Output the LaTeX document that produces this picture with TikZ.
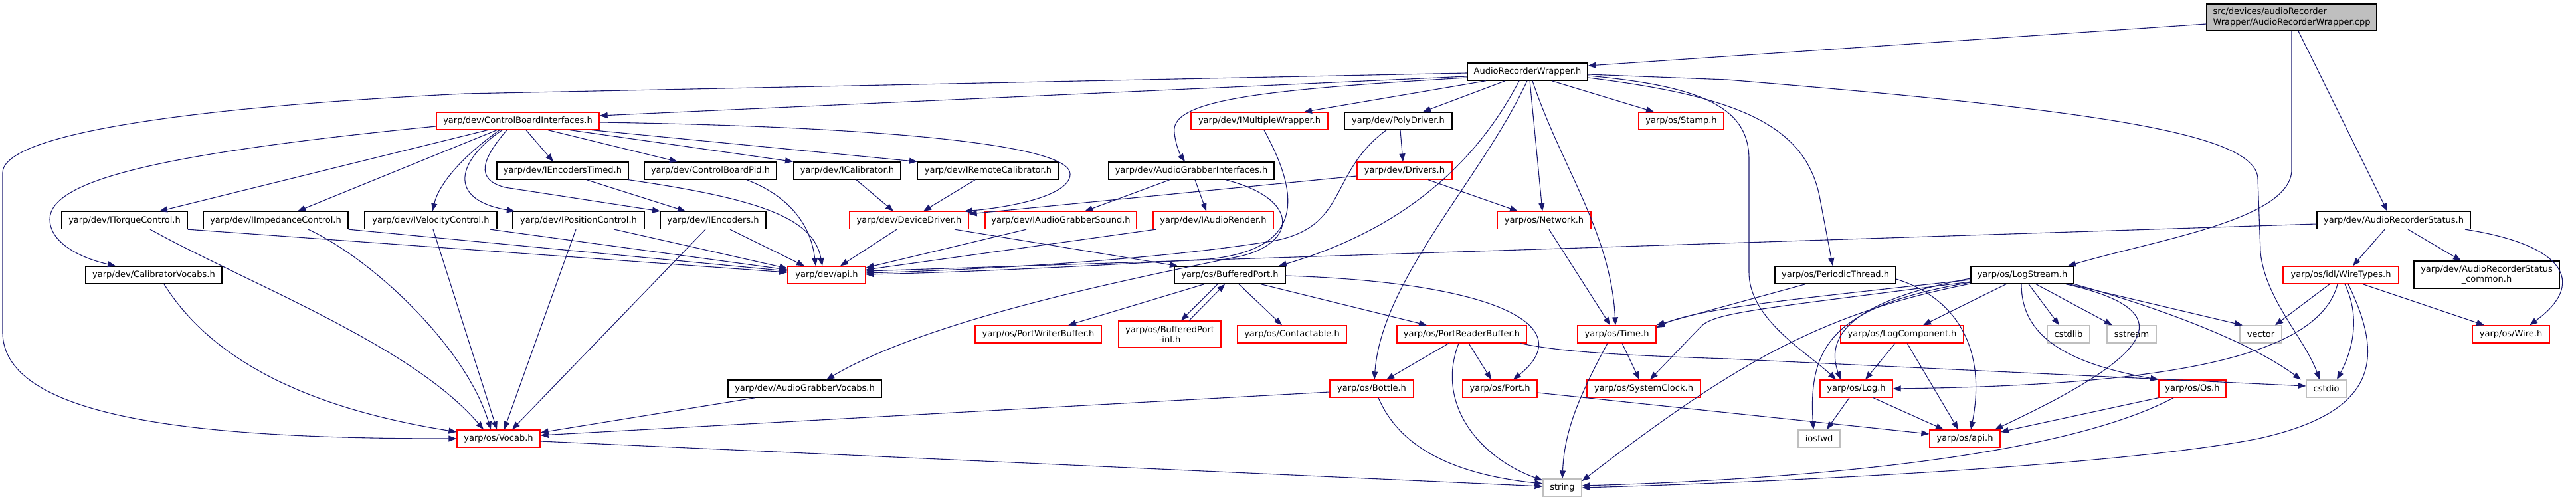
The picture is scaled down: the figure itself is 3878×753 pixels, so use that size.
\documentclass[tikz,border=0pt]{standalone}
\usepackage{fontspec}
\newfontfamily\doxfont{DejaVu Sans}
\usetikzlibrary{arrows.meta}
\definecolor{edgeblue}{HTML}{191970}
\definecolor{rootgray}{HTML}{BFBFBF}
\definecolor{lightgray}{HTML}{BFBFBF}
\tikzset{
  bx/.style={draw=black, line width=1.3pt, inner sep=0pt, minimum height=26pt, fill=white,
    font=\doxfont\fontsize{13}{15.5}\selectfont, text=black},
  rbx/.style={bx, draw=red},
  gbx/.style={bx, draw=lightgray},
  bw/.style={minimum width=#1pt},
  dep/.style={draw=edgeblue, line width=1.1pt, -{Triangle[length=12pt,width=9pt]}}
}
\begin{document}
\begin{tikzpicture}[x=1pt,y=-1pt]
\useasboundingbox (0,0) rectangle (3878,753);
% nodes
\node[bx, bw=256, minimum height=40pt, fill=rootgray, align=left] (cpp) at (3450,26) {src/devices/audioRecorder\\Wrapper/AudioRecorderWrapper.cpp};
\node[bx, bw=181] (ARW) at (2299.5,108) {AudioRecorderWrapper.h};
\node[rbx, bw=245] (CBI) at (779.5,182) {yarp/dev/ControlBoardInterfaces.h};
\node[rbx, bw=206] (IMW) at (1896,182) {yarp/dev/IMultipleWrapper.h};
\node[bx, bw=162] (PD) at (2105,182) {yarp/dev/PolyDriver.h};
\node[rbx, bw=128] (Stamp) at (2531,182) {yarp/os/Stamp.h};
\node[bx, bw=198] (IET) at (847,257) {yarp/dev/IEncodersTimed.h};
\node[bx, bw=199] (CBP) at (1069.5,257) {yarp/dev/ControlBoardPid.h};
\node[bx, bw=161] (ICal) at (1275.5,257) {yarp/dev/ICalibrator.h};
\node[bx, bw=213] (IRC) at (1487.5,257) {yarp/dev/IRemoteCalibrator.h};
\node[bx, bw=249] (AGI) at (1793.5,257) {yarp/dev/AudioGrabberInterfaces.h};
\node[rbx, bw=143] (Drv) at (2114.5,257) {yarp/dev/Drivers.h};
\node[bx, bw=189] (ITC) at (187.5,331.5) {yarp/dev/ITorqueControl.h};
\node[bx, bw=218] (IIC) at (415,331.5) {yarp/dev/IImpedanceControl.h};
\node[bx, bw=199] (IVC) at (648.5,331.5) {yarp/dev/IVelocityControl.h};
\node[bx, bw=198] (IPC) at (871,331.5) {yarp/dev/IPositionControl.h};
\node[bx, bw=159] (IEnc) at (1073.5,331.5) {yarp/dev/IEncoders.h};
\node[rbx, bw=179] (DD) at (1368.5,331.5) {yarp/dev/DeviceDriver.h};
\node[rbx, bw=228] (IAGS) at (1597,331.5) {yarp/dev/IAudioGrabberSound.h};
\node[rbx, bw=181] (IAR) at (1826.5,331.5) {yarp/dev/IAudioRender.h};
\node[rbx, bw=141] (Net) at (2324.5,331.5) {yarp/os/Network.h};
\node[bx, bw=231] (ARS) at (3603.5,331.5) {yarp/dev/AudioRecorderStatus.h};
\node[bx, bw=205] (CV) at (231.5,414) {yarp/dev/CalibratorVocabs.h};
\node[rbx, bw=117] (dapi) at (1244.5,414) {yarp/dev/api.h};
\node[bx, bw=167] (BP) at (1851.5,414) {yarp/os/BufferedPort.h};
\node[bx, bw=182] (PT) at (2763,414) {yarp/os/PeriodicThread.h};
\node[bx, bw=155] (LS) at (3044.5,414) {yarp/os/LogStream.h};
\node[rbx, bw=174] (WT) at (3524,414) {yarp/os/idl/WireTypes.h};
\node[bx, bw=219, minimum height=41pt, align=center] (ARSC) at (3743.5,413.5) {yarp/dev/AudioRecorderStatus\\\_common.h};
\node[rbx, bw=190] (PWB) at (1563,503) {yarp/os/PortWriterBuffer.h};
\node[rbx, bw=154, minimum height=40pt, align=center] (BPI) at (1761,503) {yarp/os/BufferedPort\\-inl.h};
\node[rbx, bw=164] (Cont) at (1945,503) {yarp/os/Contactable.h};
\node[rbx, bw=195] (PRB) at (2200.5,503) {yarp/os/PortReaderBuffer.h};
\node[rbx, bw=118] (Time) at (2434,503) {yarp/os/Time.h};
\node[rbx, bw=185] (LC) at (2863.5,503) {yarp/os/LogComponent.h};
\node[gbx, bw=64] (cstdlib) at (3114,503) {cstdlib};
\node[gbx, bw=74] (sstream) at (3209,503) {sstream};
\node[gbx, bw=63] (vector) at (3403.5,503) {vector};
\node[rbx, bw=116] (Wire) at (3780,503) {yarp/os/Wire.h};
\node[bx, bw=231] (AGV) at (1211.5,585) {yarp/dev/AudioGrabberVocabs.h};
\node[rbx, bw=126] (Bottle) at (2065,585) {yarp/os/Bottle.h};
\node[rbx, bw=112] (Port) at (2258,585) {yarp/os/Port.h};
\node[rbx, bw=171] (SC) at (2474.5,585) {yarp/os/SystemClock.h};
\node[rbx, bw=109] (Log) at (2794.5,585) {yarp/os/Log.h};
\node[rbx, bw=101] (Os) at (3300.5,585) {yarp/os/Os.h};
\node[gbx, bw=60] (cstdio) at (3502,585) {cstdio};
\node[rbx, bw=125] (Vocab) at (750.5,660) {yarp/os/Vocab.h};
\node[gbx, bw=63] (iosfwd) at (2738.5,660) {iosfwd};
\node[rbx, bw=106] (oapi) at (2958,660) {yarp/os/api.h};
\node[gbx, bw=58] (string) at (2352,734) {string};

\begin{scope}[on background layer/.style={}]
% cpp
\draw[dep] (cpp.west |- 0,36) -- (ARW.east |- 0,99);
\draw[dep] (cpp.south) -- (3450,255) .. controls (3450,330) and (3250,360) .. (LS.north -| 3113,0);
\draw[dep] (cpp.south -| 3460,0) -- (ARS.north -| 3594,0);
% ARW
\draw[dep] (ARW.west |- 0,115) -- (CBI.east |- 0,174);
\draw[dep] (ARW.west |- 0,110) -- (700,141) .. controls (300,160) and (4,200) .. (4,260) -- (4,500) .. controls (4,640) and (350,660) .. (Vocab.west |- 0,660);
\draw[dep] (ARW.west |- 0,117) .. controls (1900,135) and (1760,150) .. (1768,200) .. controls (1770,220) and (1778,235) .. (AGI.north -| 1784,0);
\draw[dep] (ARW.south -| 2237,0) -- (IMW.north -| 1963,0);
\draw[dep] (ARW.south -| 2266,0) -- (PD.north -| 2142,0);
\draw[dep] (ARW.south -| 2336,0) -- (Stamp.north -| 2490,0);
\draw[dep] (ARW.south -| 2287,0) .. controls (2230,230) and (2130,340) .. (BP.north -| 1925,0);
\draw[dep] (ARW.south -| 2299,0) .. controls (2230,270) and (2080,420) .. (Bottle.north -| 2069,0);
\draw[dep] (ARW.south -| 2303,0) -- (Net.north -| 2322,0);
\draw[dep] (ARW.south -| 2307,0) .. controls (2350,250) and (2425,350) .. (Time.north -| 2432,0);
\draw[dep] (ARW.east |- 0,117) .. controls (2620,145) and (2720,190) .. (2740,300) -- (PT.north -| 2759,0);
\draw[dep] (ARW.east |- 0,114) .. controls (2570,130) and (2633,165) .. (2633,240) -- (2633,410) .. controls (2633,480) and (2720,530) .. (Log.north -| 2764,0);
\draw[dep] (ARW.east |- 0,112) -- (2600,120) .. controls (3150,165) and (3399,200) .. (3399,270) -- (3403,380) .. controls (3410,450) and (3470,510) .. (cstdio.north -| 3492,0);
% CBI
\draw[dep] (CBI.south -| 734,0) -- (ITC.north -| 240,0);
\draw[dep] (CBI.south -| 748,0) -- (IIC.north -| 448,0);
\draw[dep] (CBI.south -| 752,0) .. controls (690,240) and (660,280) .. (IVC.north -| 651,0);
\draw[dep] (CBI.south -| 756,0) .. controls (690,240) and (670,300) .. (IPC.north -| 775,0);
\draw[dep] (CBI.south -| 763,0) .. controls (725,240) and (715,270) .. (760,282) -- (IEnc.north -| 994,0);
\draw[dep] (CBI.south -| 792,0) -- (IET.north -| 833,0);
\draw[dep] (CBI.south -| 825,0) -- (CBP.north -| 1020,0);
\draw[dep] (CBI.south -| 858,0) -- (ICal.north -| 1194,0);
\draw[dep] (CBI.south -| 891,0) -- (IRC.north -| 1381,0);
\draw[dep] (CBI.east |- 0,184) .. controls (1300,190) and (1611,215) .. (1611,262) .. controls (1611,295) and (1520,312) .. (DD.north -| 1452,0);
\draw[dep] (CBI.west |- 0,190) .. controls (250,230) and (75,270) .. (75,330) .. controls (75,365) and (120,388) .. (CV.north -| 174,0);
\draw[dep] (IET.south -| 883,0) -- (IEnc.north -| 1032,0);
\draw[dep] (IET.south -| 946,0) .. controls (1150,300) and (1225,330) .. (dapi.north -| 1238,0);
\draw[dep] (CBP.south -| 1124,0) .. controls (1200,300) and (1222,350) .. (dapi.north -| 1228,0);
\draw[dep] (ICal.south -| 1289,0) -- (DD.north -| 1345,0);
\draw[dep] (IRC.south -| 1468,0) -- (DD.north -| 1390,0);
\draw[dep] (ITC.south east) -- (dapi.west |- 0,410);
\draw[dep] (IIC.south east) -- (dapi.west |- 0,408);
\draw[dep] (IVC.south -| 738,0) -- (dapi.west |- 0,406);
\draw[dep] (IPC.south -| 925,0) -- (dapi.west |- 0,404);
\draw[dep] (IEnc.south -| 1099,0) -- (dapi.north -| 1211,0);
\draw[dep] (ITC.south -| 226,0) .. controls (380,430) and (620,520) .. (Vocab.north -| 728,0);
\draw[dep] (IIC.south -| 464,0) .. controls (560,390) and (700,520) .. (Vocab.north -| 739,0);
\draw[dep] (IVC.south -| 652,0) -- (Vocab.north -| 748,0);
\draw[dep] (IPC.south -| 867,0) -- (Vocab.north -| 759,0);
\draw[dep] (IEnc.south -| 1062,0) -- (Vocab.north -| 771,0);
\draw[dep] (CV.south -| 247,0) .. controls (330,560) and (500,620) .. (Vocab.west |- 0,650);
\draw[dep] (AGV.south -| 1137,0) -- (Vocab.east |- 0,651);
\draw[dep] (Bottle.west |- 0,590) -- (Vocab.east |- 0,655);
\draw[dep] (Vocab.east |- 0,664) -- (string.west |- 0,732);
% device driver etc
\draw[dep] (DD.south -| 1350,0) -- (dapi.north -| 1265,0);
\draw[dep] (DD.south -| 1437,0) -- (BP.north -| 1773,0);
\draw[dep] (Drv.west |- 0,265) -- (DD.east |- 0,322);
\draw[dep] (Drv.south -| 2150,0) -- (Net.north -| 2285,0);
\draw[dep] (PD.south -| 2108,0) -- (Drv.north -| 2112,0);
\draw[dep] (PD.south -| 2087,0) .. controls (2000,260) and (2030,340) .. (1920,362) .. controls (1750,390) and (1500,405) .. (dapi.east |- 0,411);
\draw[dep] (IMW.south -| 1903,0) .. controls (1960,300) and (1960,375) .. (1820,390) .. controls (1650,400) and (1450,410) .. (dapi.east |- 0,413);
\draw[dep] (AGI.south -| 1845,0) .. controls (1960,300) and (1950,365) .. (1870,385) .. controls (1700,420) and (1400,480) .. (AGV.north -| 1244,0);
\draw[dep] (AGI.south -| 1761,0) -- (IAGS.north -| 1633,0);
\draw[dep] (AGI.south -| 1799,0) -- (IAR.north -| 1816,0);
\draw[dep] (IAGS.south -| 1545,0) -- (dapi.east |- 0,403);
\draw[dep] (IAR.south -| 1740,0) -- (dapi.east |- 0,406);
\draw[dep] (ARS.west |- 0,337) -- (dapi.east |- 0,408);
\draw[dep] (Net.south -| 2332,0) -- (Time.north -| 2424,0);
% buffered port
\draw[dep] (BP.south -| 1813,0) -- (PWB.north -| 1608,0);
\draw[dep] (BP.south -| 1833,0) -- (BPI.north -| 1778,0);
\draw[dep] (BPI.north -| 1790,0) -- (BP.south -| 1844,0);
\draw[dep] (BP.south -| 1865,0) -- (Cont.north -| 1930,0);
\draw[dep] (BP.south -| 1898,0) -- (PRB.north -| 2148,0);
\draw[dep] (BP.east |- 0,415) .. controls (2250,425) and (2380,490) .. (Port.north -| 2278,0);
\draw[dep] (PRB.south -| 2181,0) -- (Bottle.north -| 2087,0);
\draw[dep] (PRB.south -| 2211,0) -- (Port.north -| 2245,0);
\draw[dep] (PRB.south -| 2196,0) .. controls (2160,610) and (2230,690) .. (string.west |- 0,723);
\draw[dep] (PRB.south -| 2289,0) .. controls (2350,530) and (2450,535) .. (2600,540) -- (cstdio.west |- 0,581);
\draw[dep] (Bottle.south -| 2075,0) .. controls (2110,680) and (2200,715) .. (string.west |- 0,728);
\draw[dep] (Port.east |- 0,591) -- (oapi.west |- 0,653);
\draw[dep] (Time.south -| 2420,0) .. controls (2375,600) and (2355,650) .. (string.north -| 2352,0);
\draw[dep] (Time.south -| 2442,0) -- (SC.north -| 2468,0);
\draw[dep] (PT.south -| 2718,0) -- (Time.east |- 0,489);
% log stream
\draw[dep] (LS.west |- 0,421) .. controls (2700,450) and (2550,465) .. (Time.east |- 0,493);
\draw[dep] (LS.west |- 0,424) .. controls (2650,465) and (2580,470) .. (2560,492) -- (SC.north -| 2484,0);
\draw[dep] (LS.west |- 0,427) .. controls (2750,470) and (2620,540) .. (string.east |- 0,724);
\draw[dep] (LS.west |- 0,419) .. controls (2800,450) and (2745,500) .. (Log.north -| 2771,0);
\draw[dep] (LS.west |- 0,425) .. controls (2760,460) and (2722,520) .. (iosfwd.north -| 2730,0);
\draw[dep] (LS.south -| 3020,0) -- (LC.north -| 2895,0);
\draw[dep] (LS.south -| 3054,0) -- (cstdlib.north -| 3100,0);
\draw[dep] (LS.south -| 3065,0) -- (sstream.north -| 3180,0);
\draw[dep] (LS.south -| 3115,0) -- (vector.north -| 3376,0);
\draw[dep] (LS.south east) .. controls (3240,460) and (3380,510) .. (cstdio.north -| 3464,0);
\draw[dep] (LS.south -| 3043,0) .. controls (3043,500) and (3100,545) .. (Os.north west);
\draw[dep] (LS.south -| 3110,0) .. controls (3300,470) and (3230,540) .. (oapi.north -| 3003,0);
\draw[dep] (LC.south -| 2853,0) -- (Log.north -| 2808,0);
\draw[dep] (LC.south -| 2871,0) -- (oapi.north -| 2948,0);
\draw[dep] (Log.south -| 2784,0) -- (iosfwd.north -| 2750,0);
\draw[dep] (Log.south -| 2820,0) -- (oapi.north -| 2926,0);
\draw[dep] (PT.east |- 0,420) .. controls (2950,450) and (2990,530) .. (oapi.north -| 2967,0);
\draw[dep] (Os.south west) -- (oapi.east |- 0,650);
\draw[dep] (Os.south -| 3272,0) .. controls (3100,690) and (2700,722) .. (string.east |- 0,731);
% wire types
\draw[dep] (WT.south -| 3535,0) .. controls (3590,540) and (3580,620) .. (3400,660) .. controls (3200,700) and (2700,725) .. (string.east |- 0,734);
\draw[dep] (WT.south -| 3507,0) -- (vector.north -| 3425,0);
\draw[dep] (WT.south -| 3519,0) .. controls (3490,540) and (3250,580) .. (Log.east |- 0,585);
\draw[dep] (WT.south -| 3530,0) .. controls (3555,480) and (3540,530) .. (cstdio.north -| 3518,0);
\draw[dep] (WT.south -| 3557,0) -- (Wire.north -| 3740,0);
\draw[dep] (ARS.south -| 3590,0) -- (WT.north -| 3542,0);
\draw[dep] (ARS.south -| 3625,0) -- (ARSC.north -| 3705,0);
\draw[dep] (ARS.south -| 3711,0) .. controls (3870,370) and (3890,430) .. (Wire.north -| 3808,0);
\end{scope}
\end{tikzpicture}
\end{document}
